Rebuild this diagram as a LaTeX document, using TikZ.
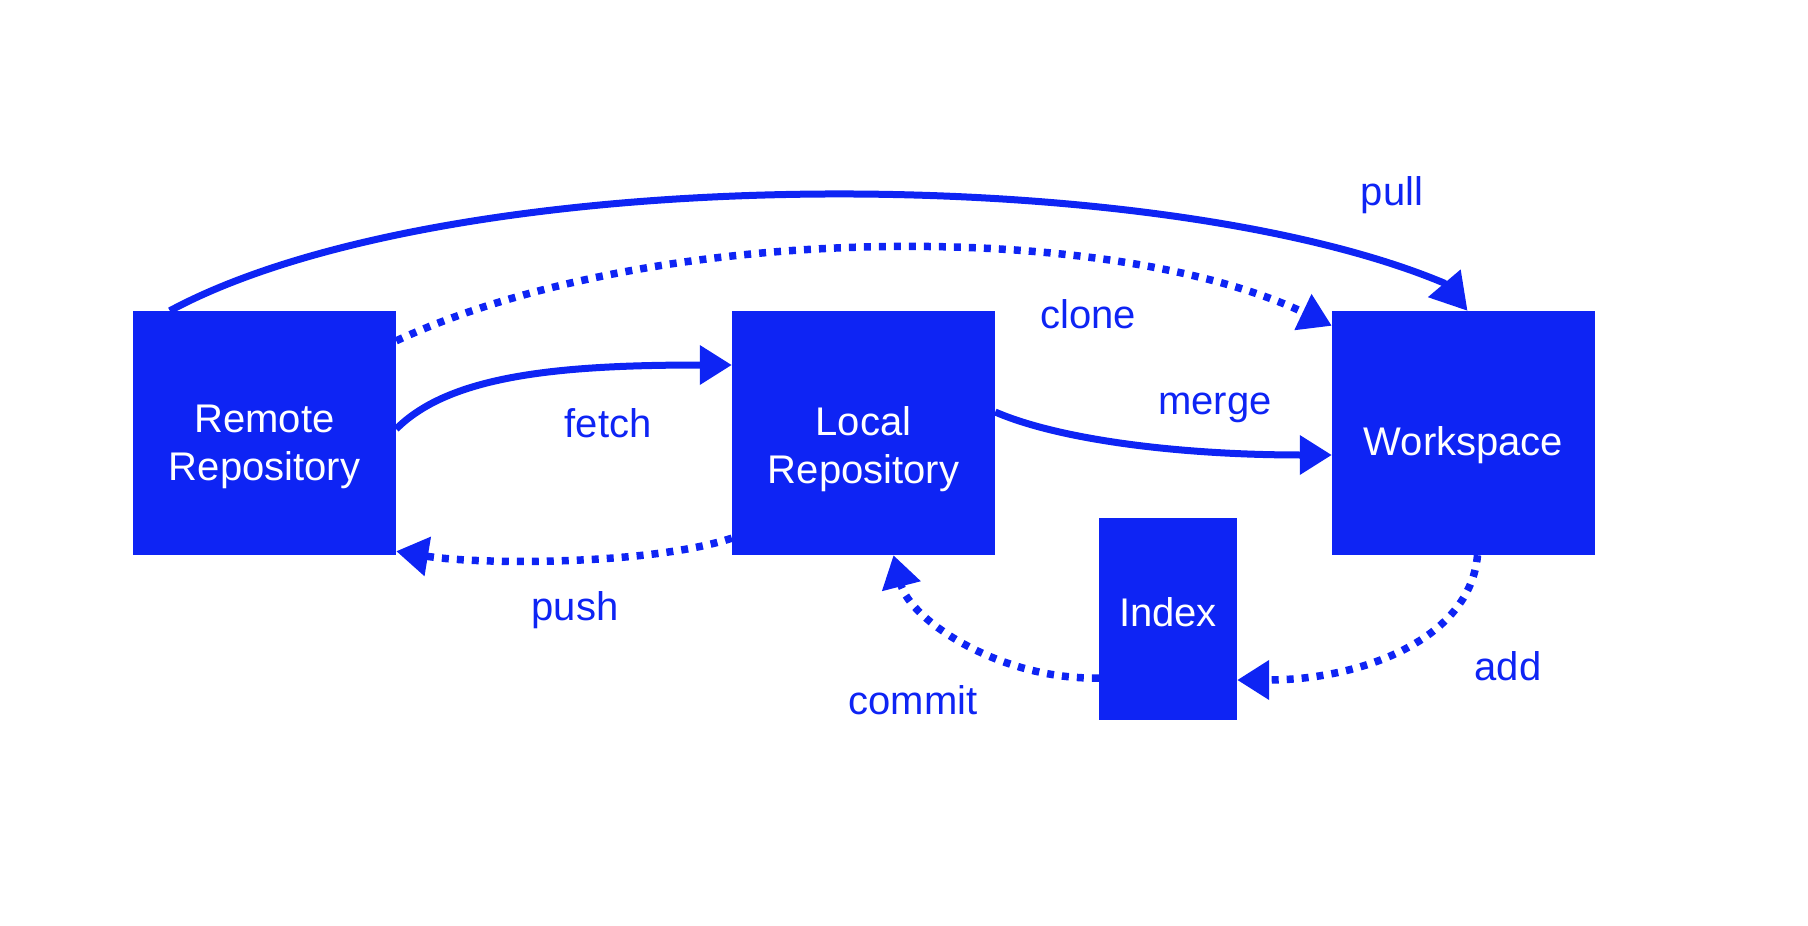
\documentclass[tikz,border=0pt]{standalone}
\usepackage{fontspec}
\setmainfont{Liberation Sans}
\usetikzlibrary{arrows.meta}
\definecolor{gitblue}{RGB}{14,36,244}
\begin{document}
\begin{tikzpicture}[x=1pt,y=-1pt,
  box/.style={rectangle,fill=gitblue,inner sep=0pt},
  boxtext/.style={text=white,align=center,inner sep=0pt,font=\fontsize{40}{48}\selectfont},
  lbl/.style={text=gitblue,inner sep=0pt,font=\fontsize{40}{48}\selectfont},
  conn/.style={gitblue,line width=7pt,line join=round,-{Triangle[length=32pt,width=38pt]}},
  dotconn/.style={conn,line width=7.5pt,dash pattern=on 7pt off 8pt}]
\useasboundingbox (0,0) rectangle (1808,926);
\node[box,minimum width=263pt,minimum height=244pt] (remote) at (264.5,433) {};
\node[box,minimum width=263pt,minimum height=244pt] (local) at (863.5,433) {};
\node[box,minimum width=263pt,minimum height=244pt] (work) at (1463.5,433) {};
\node[box,minimum width=138pt,minimum height=202pt] (index) at (1168,619) {};
\node[boxtext] (tremote) at ([yshift=-14pt]remote.center) {Remote\\Repository};
\node[boxtext] (tlocal) at ([yshift=-16pt]local.center) {Local\\Repository};
\node[boxtext] (twork) at ([yshift=-12pt]work.center) {Workspace};
\node[boxtext] (tindex) at ([yshift=7pt]index.center) {Index};

\coordinate (pullend) at (1444,283);
\draw[conn,-{Triangle[length=36pt,width=41pt]}] ([xshift=37pt]remote.north west) .. controls (450,160) and (1150,160) .. (pullend) -- ([xshift=4pt]work.north);
\draw[dotconn] ([yshift=-30pt]remote.north east) .. controls (658,220) and (1109,220) .. ([yshift=-15pt]work.north west);
\draw[conn] ([yshift=4pt]remote.east) .. controls (450,375) and (560,365) .. ([yshift=68pt]local.west);
\draw[dotconn] ([yshift=17pt]local.south west) .. controls (650,565) and (480,565) .. ([yshift=4pt]remote.south east);
\draw[conn] ([yshift=21pt]local.east) .. controls (1060,440) and (1180,455) .. ([yshift=-22pt]work.west);
\draw[dotconn] ([xshift=14pt]work.south) .. controls (1470,640) and (1360,680) .. ([yshift=-61pt]index.east);
\draw[dotconn] ([yshift=-59pt]index.west) .. controls (1000,680) and (910,620) .. ([xshift=30pt]local.south);

\node[lbl] (lpull) at (1392,195) {pull};
\node[lbl] (lclone) at (1088,314) {clone};
\node[lbl] (lfetch) at (608,423) {fetch};
\node[lbl] (lmerge) at (1215,408) {merge};
\node[lbl] (lpush) at (575,610) {push};
\node[lbl] (lcommit) at (913,700) {commit};
\node[lbl] (ladd) at (1508,666) {add};
\end{tikzpicture}
\end{document}
